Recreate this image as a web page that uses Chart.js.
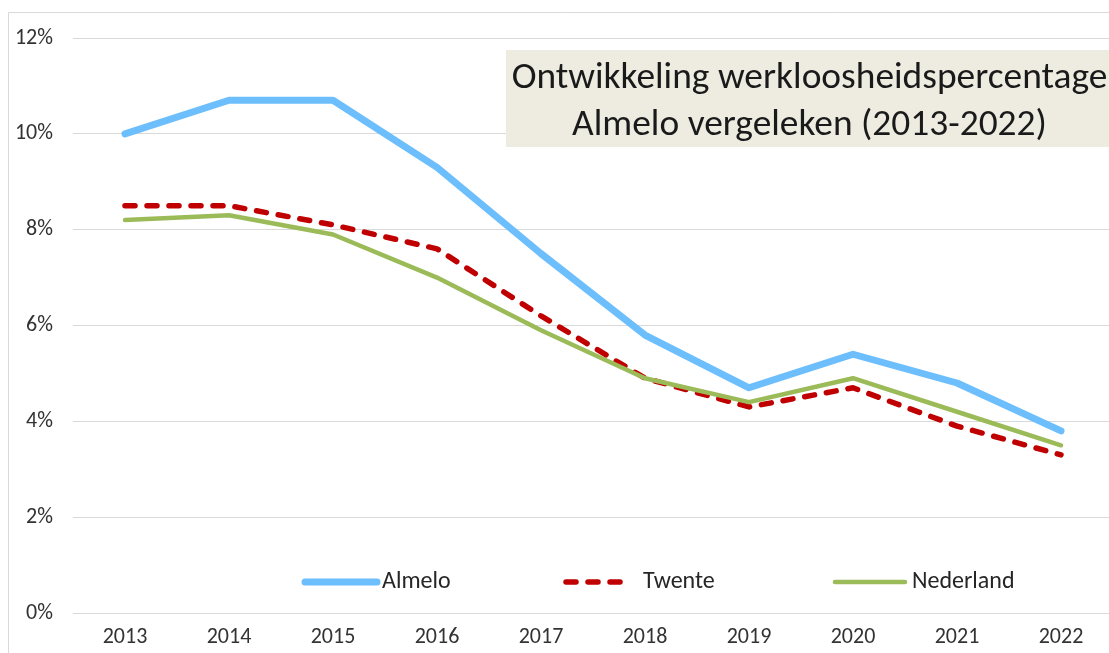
<!DOCTYPE html>
<html>
<head>
<meta charset="utf-8">
<script src="https://cdn.jsdelivr.net/npm/chart.js@4/dist/chart.umd.min.js"></script>
<style>
  html, body { margin: 0; padding: 0; background: #fff; overflow: hidden; }
  #wrap { position: relative; width: 1113px; height: 653px; }
</style>
</head>
<body>
<div id="wrap"><canvas id="c" width="1113" height="653"></canvas></div>
<script>
const categories = ['2013','2014','2015','2016','2017','2018','2019','2020','2021','2022'];
const almelo    = [10.0, 10.7, 10.7, 9.3, 7.5, 5.8, 4.7, 5.4, 4.8, 3.8];
const twente    = [8.5, 8.5, 8.1, 7.6, 6.2, 4.9, 4.3, 4.7, 3.9, 3.3];
const nederland = [8.2, 8.3, 7.9, 7.0, 5.9, 4.9, 4.4, 4.9, 4.2, 3.5];
const seriesNames = ['Almelo', 'Twente', 'Nederland'];
const titleLines = ['Ontwikkeling werkloosheidspercentage', 'Almelo vergeleken (2013-2022)'];

const FONT = "Carlito, 'Liberation Sans Narrow', 'DejaVu Sans Condensed', 'Open Sans', sans-serif";
const TEXT = '#333333';

const frame = {
  id: 'frame',
  beforeDraw(chart) {
    const ctx = chart.ctx;
    ctx.save();
    ctx.fillStyle = '#fff';
    ctx.fillRect(0, 0, chart.width, chart.height);
    ctx.strokeStyle = '#D9D9D9';
    ctx.lineWidth = 1;
    ctx.beginPath();
    ctx.moveTo(8.5, chart.height + 2);
    ctx.lineTo(8.5, 12.5);
    ctx.lineTo(chart.width + 2, 12.5);
    ctx.stroke();
    ctx.restore();
  }
};

const titleBox = {
  id: 'titleBox',
  afterDraw(chart) {
    const ctx = chart.ctx;
    const x0 = 506, y0 = 50, x1 = chart.width, y1 = 147;
    ctx.save();
    ctx.fillStyle = '#EEECE1';
    ctx.fillRect(x0, y0, x1 - x0, y1 - y0);
    ctx.font = '36px ' + FONT;
    const w = ctx.measureText(titleLines[0]).width;
    const size = 36 * 596 / w;
    ctx.font = size.toFixed(2) + 'px ' + FONT;
    ctx.fillStyle = '#1a1a1a';
    ctx.textAlign = 'center';
    ctx.textBaseline = 'middle';
    const cx = (x0 + 1113) / 2;
    ctx.fillText(titleLines[0], cx, 79);
    ctx.fillText(titleLines[1], cx, 126);
    ctx.restore();
  }
};

const innerLegend = {
  id: 'innerLegend',
  afterDraw(chart) {
    const ctx = chart.ctx;
    const y = 582;
    const items = [[305, 377, 382], [566, 632, 643], [835, 905, 912]];
    ctx.save();
    ctx.font = '24px ' + FONT;
    ctx.textBaseline = 'middle';
    ctx.textAlign = 'left';
    chart.data.datasets.forEach((ds, i) => {
      const [a, b, t] = items[i];
      ctx.save();
      ctx.strokeStyle = ds.borderColor;
      ctx.lineWidth = ds.borderWidth;
      ctx.lineCap = ds.borderCapStyle || 'butt';
      ctx.setLineDash(ds.borderDash || []);
      ctx.beginPath();
      ctx.moveTo(a, y);
      ctx.lineTo(b, y);
      ctx.stroke();
      ctx.restore();
      ctx.fillStyle = '#262626';
      ctx.fillText(ds.label, t, y);
    });
    ctx.restore();
  }
};

new Chart(document.getElementById('c'), {
  type: 'line',
  data: {
    labels: categories,
    datasets: [
      { label: seriesNames[0], data: almelo, borderColor: '#6CBEFD', borderWidth: 7, borderCapStyle: 'round', borderJoinStyle: 'round', pointRadius: 0, order: 2 },
      { label: seriesNames[1], data: twente, borderColor: '#C00000', borderWidth: 5.5, borderDash: [10, 12], borderCapStyle: 'round', borderJoinStyle: 'round', pointRadius: 0, order: 1 },
      { label: seriesNames[2], data: nederland, borderColor: '#9BBB59', borderWidth: 4.5, borderCapStyle: 'round', borderJoinStyle: 'round', pointRadius: 0, order: 0 }
    ]
  },
  options: {
    responsive: false,
    animation: false,
    layout: { padding: { top: 38, left: 0, right: 0, bottom: 0 } },
    plugins: { legend: { display: false }, tooltip: { enabled: false }, title: { display: false } },
    scales: {
      x: {
        offset: true,
        grid: { display: false, drawTicks: false },
        border: { display: false },
        ticks: { color: TEXT, font: { family: FONT, size: 22 }, padding: 11, maxRotation: 0 },
        afterFit(s) { s.height = 40; }
      },
      y: {
        min: 0, max: 12,
        grid: { color: '#D9D9D9', lineWidth: 1, drawTicks: false },
        border: { display: false },
        ticks: { stepSize: 2, color: TEXT, font: { family: FONT, size: 22 }, padding: 20, callback: v => v + '%' },
        afterFit(s) { s.width = 73; }
      }
    }
  },
  plugins: [frame, titleBox, innerLegend]
});
</script>
</body>
</html>
